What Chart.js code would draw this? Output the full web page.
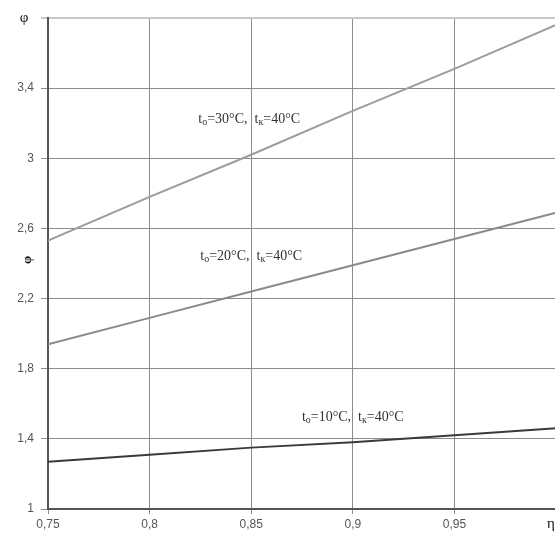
<!DOCTYPE html>
<html>
<head>
<meta charset="utf-8">
<script src="https://cdn.jsdelivr.net/npm/chart.js@4.4.0/dist/chart.umd.min.js"></script>
<style>
html,body{margin:0;padding:0;background:#fff;overflow:hidden;}
#wrap{width:555px;height:534px;overflow:hidden;}
</style>
</head>
<body>
<div id="wrap"><canvas id="c" width="559" height="534"></canvas></div>
<script>
const etaValues = [0.75, 0.8, 0.85, 0.9, 0.95, 1.0];
const phi30 = [2.53, 2.78, 3.02, 3.27, 3.51, 3.76];
const phi20 = [1.94, 2.09, 2.24, 2.39, 2.54, 2.69];
const phi10 = [1.27, 1.31, 1.35, 1.38, 1.42, 1.46];
const seriesLabels = [
  {t0: '30', tk: '40', x: 0.849, y: 3.223},
  {t0: '20', tk: '40', x: 0.85, y: 2.44},
  {t0: '10', tk: '40', x: 0.90, y: 1.52}
];
const xTicks = [0.75, 0.8, 0.85, 0.9, 0.95, 1.0];
const yTicks = [1, 1.4, 1.8, 2.2, 2.6, 3, 3.4, 3.8];

function pts(ys){ return etaValues.map((x,i)=>({x:x, y:ys[i]})); }
function fmt(v){ return String(Math.round(v*100)/100).replace('.', ','); }

const labelsPlugin = {
  id: 'labels',
  afterDraw(chart){
    const ctx = chart.ctx;
    const xs = chart.scales.x, ys = chart.scales.y;
    ctx.save();
    ctx.fillStyle = '#333';
    ctx.textBaseline = 'middle';
    const big = '14px "Liberation Serif", "Times New Roman", serif';
    const small = '10px "Liberation Serif", "Times New Roman", serif';
    seriesLabels.forEach(l => {
      const parts = [
        ['t', big, 0], ['о', small, 3], ['=' + l.t0 + '°C,  t', big, 0], ['к', small, 3], ['=' + l.tk + '°C', big, 0]
      ];
      let w = 0;
      parts.forEach(p => { ctx.font = p[1]; w += ctx.measureText(p[0]).width; });
      let cx = xs.getPixelForValue(l.x) - w/2;
      const cy = ys.getPixelForValue(l.y);
      ctx.textAlign = 'left';
      parts.forEach(p => { ctx.font = p[1]; ctx.fillText(p[0], cx, cy + p[2]); cx += ctx.measureText(p[0]).width; });
    });
    // axis symbols
    ctx.fillStyle = '#111';
    ctx.font = '15px "Liberation Serif", "Times New Roman", serif';
    ctx.textAlign = 'center';
    ctx.fillText('φ', 24, ys.getPixelForValue(3.8));
    ctx.fillText('η', 551, 524);
    ctx.save();
    ctx.translate(28, ys.getPixelForValue(2.42));
    ctx.rotate(-Math.PI/2);
    ctx.font = 'bold 13px "Liberation Serif", serif';
    ctx.fillText('φ', 0, 0);
    ctx.restore();
    ctx.restore();
  }
};

new Chart(document.getElementById('c'), {
  type: 'scatter',
  data: {
    datasets: [
      {data: pts(phi30), showLine: true, borderColor: '#9c9c9c', borderWidth: 2, pointRadius: 0},
      {data: pts(phi20), showLine: true, borderColor: '#8a8a8a', borderWidth: 2, pointRadius: 0},
      {data: pts(phi10), showLine: true, borderColor: '#3a3a3a', borderWidth: 2, pointRadius: 0}
    ]
  },
  options: {
    responsive: false,
    animation: false,
    layout: {padding: {top: 18, right: 0, left: 0, bottom: 0}},
    plugins: {legend: {display: false}, tooltip: {enabled: false}},
    scales: {
      x: {
        type: 'linear', min: 0.75, max: 1.0,
        afterBuildTicks: s => { s.ticks = xTicks.map(v => ({value: v})); },
        afterFit: s => { s.height = 25; },
        ticks: {
          autoSkip: false, maxRotation: 0, padding: 3,
          color: '#555', font: {family: '"Liberation Sans", Arial, sans-serif', size: 12},
          callback: v => (v >= 0.999 ? '' : fmt(v))
        },
        grid: {color: '#8c8c8c', lineWidth: 1, tickLength: 5, drawTicks: true},
        border: {color: '#555', width: 2}
      },
      y: {
        type: 'linear', min: 1, max: 3.8,
        afterBuildTicks: s => { s.ticks = yTicks.map(v => ({value: v})); },
        afterFit: s => { s.width = 48; },
        ticks: {
          autoSkip: false, padding: 7,
          color: '#555', font: {family: '"Liberation Sans", Arial, sans-serif', size: 12},
          callback: v => (v >= 3.79 ? '' : fmt(v))
        },
        grid: {
          color: ctx => (ctx.tick && ctx.tick.value >= 3.79 ? '#c8c8c8' : '#8c8c8c'),
          lineWidth: ctx => (ctx.tick && ctx.tick.value >= 3.79 ? 2 : 1),
          tickLength: 7
        },
        border: {color: '#555', width: 2}
      }
    }
  },
  plugins: [labelsPlugin]
});
</script>
</body>
</html>
